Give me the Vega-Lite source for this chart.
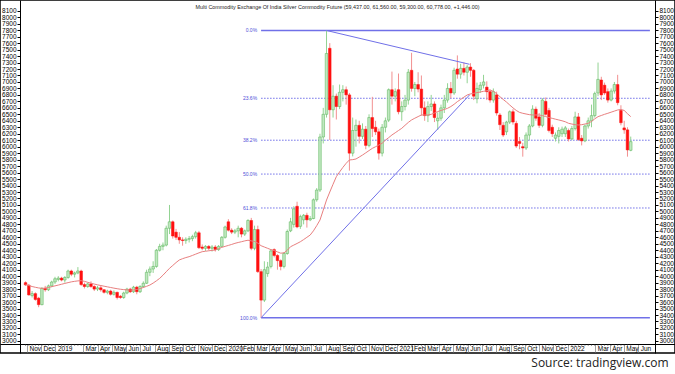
{
"$schema": "https://vega.github.io/schema/vega-lite/v6.json",
"width": 675, "height": 353,
"autosize": {"type": "none"},
"padding": {"left": 0, "top": 0, "right": 0, "bottom": 21},
"background": "white",
"config": {"view": {"stroke": "#000", "strokeWidth": 1.5}, "axis": {"grid": false}},
"title": {"text": "Multi Commodity Exchange Of India Silver Commodity Future (59,437.00, 61,560.00, 59,300.00, 60,778.00, +1,446.00)", "orient": "top", "anchor": "middle", "offset": -10, "font": "Liberation Sans", "fontSize": 5.4, "fontWeight": "normal", "color": "#222"},
"datasets": {
"k": [
{"d":"2018-10-29","o":3900,"h":3920,"l":3850,"c":3865,"ma":3870},
{"d":"2018-11-05","o":3860,"h":3880,"l":3700,"c":3710,"ma":3855},
{"d":"2018-11-12","o":3700,"h":3770,"l":3670,"c":3730,"ma":3840},
{"d":"2018-11-19","o":3730,"h":3750,"l":3620,"c":3640,"ma":3828},
{"d":"2018-11-26","o":3660,"h":3680,"l":3520,"c":3560,"ma":3818},
{"d":"2018-12-03","o":3560,"h":3830,"l":3550,"c":3810,"ma":3812},
{"d":"2018-12-10","o":3810,"h":3850,"l":3760,"c":3790,"ma":3815},
{"d":"2018-12-17","o":3790,"h":3870,"l":3770,"c":3850,"ma":3825},
{"d":"2018-12-24","o":3850,"h":3930,"l":3830,"c":3910,"ma":3838},
{"d":"2018-12-31","o":3910,"h":3990,"l":3880,"c":3960,"ma":3850},
{"d":"2019-01-07","o":3950,"h":4000,"l":3920,"c":3970,"ma":3862},
{"d":"2019-01-14","o":3970,"h":3990,"l":3920,"c":3940,"ma":3875},
{"d":"2019-01-21","o":3940,"h":4000,"l":3900,"c":3980,"ma":3888},
{"d":"2019-01-28","o":3980,"h":4100,"l":3960,"c":4080,"ma":3900},
{"d":"2019-02-04","o":4080,"h":4100,"l":4000,"c":4030,"ma":3912},
{"d":"2019-02-11","o":4030,"h":4070,"l":3980,"c":4050,"ma":3920},
{"d":"2019-02-18","o":4050,"h":4140,"l":4030,"c":4080,"ma":3927},
{"d":"2019-02-25","o":4080,"h":4100,"l":3850,"c":3870,"ma":3930},
{"d":"2019-03-04","o":3870,"h":3900,"l":3810,"c":3840,"ma":3920},
{"d":"2019-03-11","o":3840,"h":3900,"l":3820,"c":3880,"ma":3905},
{"d":"2019-03-18","o":3880,"h":3920,"l":3820,"c":3840,"ma":3890},
{"d":"2019-03-25","o":3840,"h":3860,"l":3770,"c":3800,"ma":3878},
{"d":"2019-04-01","o":3800,"h":3850,"l":3770,"c":3820,"ma":3866},
{"d":"2019-04-08","o":3820,"h":3860,"l":3760,"c":3790,"ma":3855},
{"d":"2019-04-15","o":3790,"h":3800,"l":3730,"c":3750,"ma":3845},
{"d":"2019-04-22","o":3750,"h":3790,"l":3720,"c":3770,"ma":3835},
{"d":"2019-04-29","o":3770,"h":3790,"l":3700,"c":3720,"ma":3825},
{"d":"2019-05-06","o":3720,"h":3780,"l":3700,"c":3750,"ma":3815},
{"d":"2019-05-13","o":3750,"h":3760,"l":3640,"c":3670,"ma":3806},
{"d":"2019-05-20","o":3690,"h":3710,"l":3650,"c":3670,"ma":3798},
{"d":"2019-05-27","o":3670,"h":3760,"l":3650,"c":3740,"ma":3792},
{"d":"2019-06-03","o":3740,"h":3820,"l":3720,"c":3800,"ma":3788},
{"d":"2019-06-10","o":3800,"h":3820,"l":3740,"c":3760,"ma":3786},
{"d":"2019-06-17","o":3760,"h":3850,"l":3740,"c":3830,"ma":3786},
{"d":"2019-06-24","o":3830,"h":3850,"l":3720,"c":3760,"ma":3795},
{"d":"2019-07-01","o":3760,"h":3860,"l":3740,"c":3840,"ma":3808},
{"d":"2019-07-08","o":3840,"h":3920,"l":3820,"c":3890,"ma":3825},
{"d":"2019-07-15","o":3890,"h":4100,"l":3880,"c":4060,"ma":3843},
{"d":"2019-07-22","o":4060,"h":4150,"l":4000,"c":4110,"ma":3863},
{"d":"2019-07-29","o":4110,"h":4230,"l":4050,"c":4150,"ma":3893},
{"d":"2019-08-05","o":4150,"h":4420,"l":4130,"c":4400,"ma":3928},
{"d":"2019-08-12","o":4400,"h":4500,"l":4380,"c":4460,"ma":3966},
{"d":"2019-08-19","o":4460,"h":4520,"l":4400,"c":4480,"ma":4015},
{"d":"2019-08-26","o":4480,"h":4780,"l":4460,"c":4740,"ma":4068},
{"d":"2019-09-02","o":4740,"h":5100,"l":4650,"c":4840,"ma":4121},
{"d":"2019-09-09","o":4840,"h":4860,"l":4580,"c":4620,"ma":4165},
{"d":"2019-09-16","o":4680,"h":4730,"l":4560,"c":4600,"ma":4210},
{"d":"2019-09-23","o":4600,"h":4680,"l":4500,"c":4560,"ma":4250},
{"d":"2019-09-30","o":4560,"h":4600,"l":4470,"c":4550,"ma":4270},
{"d":"2019-10-07","o":4550,"h":4600,"l":4500,"c":4570,"ma":4287},
{"d":"2019-10-14","o":4570,"h":4620,"l":4520,"c":4580,"ma":4301},
{"d":"2019-10-21","o":4580,"h":4640,"l":4540,"c":4610,"ma":4320},
{"d":"2019-10-28","o":4610,"h":4700,"l":4580,"c":4670,"ma":4340},
{"d":"2019-11-04","o":4670,"h":4700,"l":4420,"c":4440,"ma":4360},
{"d":"2019-11-11","o":4450,"h":4490,"l":4400,"c":4430,"ma":4378},
{"d":"2019-11-18","o":4430,"h":4480,"l":4390,"c":4460,"ma":4385},
{"d":"2019-11-25","o":4460,"h":4480,"l":4400,"c":4430,"ma":4392},
{"d":"2019-12-02","o":4430,"h":4480,"l":4380,"c":4450,"ma":4398},
{"d":"2019-12-09","o":4450,"h":4480,"l":4380,"c":4410,"ma":4404},
{"d":"2019-12-16","o":4410,"h":4480,"l":4390,"c":4460,"ma":4425},
{"d":"2019-12-23","o":4460,"h":4620,"l":4450,"c":4600,"ma":4445},
{"d":"2019-12-30","o":4600,"h":4780,"l":4580,"c":4760,"ma":4460},
{"d":"2020-01-06","o":4840,"h":4880,"l":4690,"c":4710,"ma":4475},
{"d":"2020-01-13","o":4710,"h":4740,"l":4650,"c":4680,"ma":4490},
{"d":"2020-01-20","o":4680,"h":4730,"l":4650,"c":4700,"ma":4507},
{"d":"2020-01-27","o":4700,"h":4780,"l":4600,"c":4740,"ma":4520},
{"d":"2020-02-03","o":4740,"h":4760,"l":4600,"c":4650,"ma":4532},
{"d":"2020-02-10","o":4650,"h":4720,"l":4620,"c":4700,"ma":4545},
{"d":"2020-02-17","o":4700,"h":4880,"l":4680,"c":4860,"ma":4555},
{"d":"2020-02-24","o":4860,"h":4900,"l":4400,"c":4430,"ma":4545},
{"d":"2020-03-02","o":4430,"h":4780,"l":4400,"c":4720,"ma":4535},
{"d":"2020-03-09","o":4720,"h":4780,"l":4050,"c":4070,"ma":4510},
{"d":"2020-03-16","o":4070,"h":4110,"l":3358,"c":3630,"ma":4470},
{"d":"2020-03-23","o":3630,"h":4230,"l":3600,"c":4100,"ma":4450},
{"d":"2020-03-30","o":4040,"h":4220,"l":3990,"c":4140,"ma":4430},
{"d":"2020-04-06","o":4150,"h":4420,"l":4120,"c":4390,"ma":4410},
{"d":"2020-04-13","o":4410,"h":4430,"l":4290,"c":4320,"ma":4395},
{"d":"2020-04-20","o":4320,"h":4340,"l":4100,"c":4240,"ma":4375},
{"d":"2020-04-27","o":4240,"h":4260,"l":4090,"c":4150,"ma":4355},
{"d":"2020-05-04","o":4150,"h":4370,"l":4120,"c":4350,"ma":4360},
{"d":"2020-05-11","o":4350,"h":4720,"l":4330,"c":4690,"ma":4400},
{"d":"2020-05-18","o":4700,"h":4900,"l":4680,"c":4840,"ma":4455},
{"d":"2020-05-25","o":4800,"h":5080,"l":4750,"c":5040,"ma":4480},
{"d":"2020-06-01","o":5080,"h":5150,"l":4740,"c":4760,"ma":4505},
{"d":"2020-06-08","o":4770,"h":4950,"l":4730,"c":4920,"ma":4532},
{"d":"2020-06-15","o":4870,"h":4960,"l":4800,"c":4940,"ma":4565},
{"d":"2020-06-22","o":4940,"h":4980,"l":4750,"c":4870,"ma":4600},
{"d":"2020-06-29","o":4870,"h":4930,"l":4850,"c":4890,"ma":4635},
{"d":"2020-07-06","o":4890,"h":5200,"l":4880,"c":5180,"ma":4700},
{"d":"2020-07-13","o":5180,"h":5360,"l":5150,"c":5330,"ma":4780},
{"d":"2020-07-20","o":5330,"h":6200,"l":5300,"c":6150,"ma":4867},
{"d":"2020-07-27","o":6150,"h":6600,"l":6050,"c":6500,"ma":5020},
{"d":"2020-08-03","o":6500,"h":7795,"l":6450,"c":7440,"ma":5176},
{"d":"2020-08-10","o":7520,"h":7600,"l":6104,"c":6570,"ma":5300},
{"d":"2020-08-17","o":6570,"h":6950,"l":6450,"c":6780,"ma":5420},
{"d":"2020-08-24","o":6780,"h":6820,"l":6420,"c":6620,"ma":5537},
{"d":"2020-08-31","o":6620,"h":6960,"l":6580,"c":6840,"ma":5610},
{"d":"2020-09-07","o":6840,"h":6950,"l":6700,"c":6880,"ma":5680},
{"d":"2020-09-14","o":6880,"h":6930,"l":6650,"c":6800,"ma":5743},
{"d":"2020-09-21","o":6800,"h":6830,"l":5630,"c":5900,"ma":5795},
{"d":"2020-09-28","o":5900,"h":6450,"l":5850,"c":6250,"ma":5800},
{"d":"2020-10-05","o":6250,"h":6420,"l":6000,"c":6330,"ma":5810},
{"d":"2020-10-12","o":6330,"h":6400,"l":6050,"c":6160,"ma":5840},
{"d":"2020-10-19","o":6160,"h":6360,"l":6120,"c":6270,"ma":5871},
{"d":"2020-10-26","o":6270,"h":6320,"l":5960,"c":6020,"ma":5905},
{"d":"2020-11-02","o":6020,"h":6500,"l":5990,"c":6450,"ma":5940},
{"d":"2020-11-09","o":6450,"h":6770,"l":6150,"c":6280,"ma":5974},
{"d":"2020-11-16","o":6300,"h":6400,"l":6180,"c":6230,"ma":6000},
{"d":"2020-11-23","o":6230,"h":6280,"l":5800,"c":5900,"ma":6026},
{"d":"2020-11-30","o":5900,"h":6350,"l":5850,"c":6300,"ma":6053},
{"d":"2020-12-07","o":6300,"h":6450,"l":6220,"c":6400,"ma":6100},
{"d":"2020-12-14","o":6410,"h":6900,"l":6380,"c":6880,"ma":6140},
{"d":"2020-12-21","o":6880,"h":7160,"l":6650,"c":6780,"ma":6181},
{"d":"2020-12-28","o":6780,"h":6900,"l":6700,"c":6850,"ma":6215},
{"d":"2021-01-04","o":6880,"h":7130,"l":6500,"c":6540,"ma":6250},
{"d":"2021-01-11","o":6540,"h":6700,"l":6400,"c":6620,"ma":6284},
{"d":"2021-01-18","o":6620,"h":6800,"l":6560,"c":6720,"ma":6330},
{"d":"2021-01-25","o":6720,"h":7200,"l":6650,"c":7150,"ma":6375},
{"d":"2021-02-01","o":7180,"h":7450,"l":6850,"c":6900,"ma":6413},
{"d":"2021-02-08","o":6900,"h":7000,"l":6780,"c":6960,"ma":6440},
{"d":"2021-02-15","o":6960,"h":7150,"l":6840,"c":6890,"ma":6465},
{"d":"2021-02-22","o":6890,"h":7100,"l":6480,"c":6600,"ma":6490},
{"d":"2021-03-01","o":6600,"h":6700,"l":6400,"c":6480,"ma":6490},
{"d":"2021-03-08","o":6480,"h":6700,"l":6380,"c":6620,"ma":6490},
{"d":"2021-03-15","o":6620,"h":6800,"l":6550,"c":6660,"ma":6500},
{"d":"2021-03-22","o":6660,"h":6700,"l":6380,"c":6450,"ma":6520},
{"d":"2021-03-29","o":6400,"h":6530,"l":6258,"c":6440,"ma":6542},
{"d":"2021-04-05","o":6440,"h":6650,"l":6400,"c":6600,"ma":6560},
{"d":"2021-04-12","o":6600,"h":6800,"l":6520,"c":6720,"ma":6575},
{"d":"2021-04-19","o":6720,"h":6980,"l":6680,"c":6900,"ma":6593},
{"d":"2021-04-26","o":6900,"h":7000,"l":6750,"c":6830,"ma":6620},
{"d":"2021-05-03","o":6830,"h":7220,"l":6800,"c":7180,"ma":6655},
{"d":"2021-05-10","o":7200,"h":7410,"l":7050,"c":7120,"ma":6696},
{"d":"2021-05-17","o":7120,"h":7280,"l":7050,"c":7210,"ma":6730},
{"d":"2021-05-24","o":7210,"h":7300,"l":7100,"c":7150,"ma":6765},
{"d":"2021-05-31","o":7150,"h":7260,"l":6980,"c":7230,"ma":6799},
{"d":"2021-06-07","o":7230,"h":7290,"l":7080,"c":7180,"ma":6815},
{"d":"2021-06-14","o":7180,"h":7200,"l":6720,"c":6780,"ma":6825},
{"d":"2021-06-21","o":6740,"h":6990,"l":6670,"c":6900,"ma":6835},
{"d":"2021-06-28","o":6880,"h":7000,"l":6830,"c":6950,"ma":6845},
{"d":"2021-07-05","o":6950,"h":7110,"l":6900,"c":7000,"ma":6855},
{"d":"2021-07-12","o":6920,"h":7010,"l":6720,"c":6850,"ma":6866},
{"d":"2021-07-19","o":6850,"h":6880,"l":6680,"c":6720,"ma":6876},
{"d":"2021-07-26","o":6720,"h":6900,"l":6680,"c":6850,"ma":6855},
{"d":"2021-08-02","o":6800,"h":6850,"l":6480,"c":6520,"ma":6820},
{"d":"2021-08-09","o":6490,"h":6520,"l":6258,"c":6340,"ma":6773},
{"d":"2021-08-16","o":6330,"h":6380,"l":6150,"c":6180,"ma":6730},
{"d":"2021-08-23","o":6230,"h":6400,"l":6180,"c":6380,"ma":6690},
{"d":"2021-08-30","o":6380,"h":6560,"l":6350,"c":6540,"ma":6644},
{"d":"2021-09-06","o":6540,"h":6580,"l":6340,"c":6380,"ma":6600},
{"d":"2021-09-13","o":6360,"h":6400,"l":5980,"c":6010,"ma":6560},
{"d":"2021-09-20","o":6080,"h":6150,"l":5960,"c":6050,"ma":6530},
{"d":"2021-09-27","o":6000,"h":6060,"l":5846,"c":5980,"ma":6516},
{"d":"2021-10-04","o":5980,"h":6220,"l":5950,"c":6180,"ma":6505},
{"d":"2021-10-11","o":6180,"h":6350,"l":6100,"c":6320,"ma":6495},
{"d":"2021-10-18","o":6320,"h":6640,"l":6300,"c":6580,"ma":6490},
{"d":"2021-10-25","o":6580,"h":6620,"l":6400,"c":6440,"ma":6490},
{"d":"2021-11-01","o":6460,"h":6520,"l":6290,"c":6330,"ma":6490},
{"d":"2021-11-08","o":6330,"h":6750,"l":6300,"c":6720,"ma":6480},
{"d":"2021-11-15","o":6700,"h":6760,"l":6480,"c":6500,"ma":6465},
{"d":"2021-11-22","o":6560,"h":6600,"l":6220,"c":6250,"ma":6450},
{"d":"2021-11-29","o":6300,"h":6340,"l":6150,"c":6200,"ma":6438},
{"d":"2021-12-06","o":6130,"h":6220,"l":6080,"c":6180,"ma":6425},
{"d":"2021-12-13","o":6160,"h":6300,"l":6050,"c":6250,"ma":6413},
{"d":"2021-12-20","o":6200,"h":6310,"l":6150,"c":6270,"ma":6400},
{"d":"2021-12-27","o":6200,"h":6320,"l":6150,"c":6290,"ma":6385},
{"d":"2022-01-03","o":6250,"h":6280,"l":6080,"c":6120,"ma":6361},
{"d":"2022-01-10","o":6120,"h":6320,"l":6100,"c":6280,"ma":6350},
{"d":"2022-01-17","o":6280,"h":6540,"l":6250,"c":6460,"ma":6340},
{"d":"2022-01-24","o":6460,"h":6520,"l":6090,"c":6110,"ma":6335},
{"d":"2022-01-31","o":6130,"h":6180,"l":6020,"c":6090,"ma":6340},
{"d":"2022-02-07","o":6090,"h":6340,"l":6070,"c":6320,"ma":6350},
{"d":"2022-02-14","o":6320,"h":6450,"l":6280,"c":6400,"ma":6361},
{"d":"2022-02-21","o":6400,"h":6650,"l":6300,"c":6480,"ma":6390},
{"d":"2022-02-28","o":6480,"h":6850,"l":6450,"c":6820,"ma":6430},
{"d":"2022-03-07","o":6830,"h":7300,"l":6780,"c":7040,"ma":6464},
{"d":"2022-03-14","o":7030,"h":7080,"l":6720,"c":6800,"ma":6482},
{"d":"2022-03-21","o":6950,"h":6990,"l":6800,"c":6830,"ma":6500},
{"d":"2022-03-28","o":6850,"h":6900,"l":6680,"c":6720,"ma":6516},
{"d":"2022-04-04","o":6720,"h":6900,"l":6700,"c":6860,"ma":6533},
{"d":"2022-04-11","o":6860,"h":7000,"l":6820,"c":6960,"ma":6550},
{"d":"2022-04-18","o":6960,"h":7110,"l":6640,"c":6680,"ma":6567},
{"d":"2022-04-25","o":6560,"h":6640,"l":6330,"c":6370,"ma":6575},
{"d":"2022-05-02","o":6290,"h":6400,"l":6200,"c":6260,"ma":6560},
{"d":"2022-05-09","o":6260,"h":6300,"l":5846,"c":5950,"ma":6510},
{"d":"2022-05-16","o":5944,"h":6156,"l":5930,"c":6078,"ma":6464}
],
"fib": [
{"lab":"0.0%","v":7795,"d":"2020-03-16","e":"2022-06-26"},
{"lab":"23.6%","v":6748,"d":"2020-03-16","e":"2022-06-26"},
{"lab":"38.2%","v":6100,"d":"2020-03-16","e":"2022-06-26"},
{"lab":"50.0%","v":5577,"d":"2020-03-16","e":"2022-06-26"},
{"lab":"61.8%","v":5053,"d":"2020-03-16","e":"2022-06-26"},
{"lab":"100.0%","v":3358,"d":"2020-03-16","e":"2022-06-26"}
],
"tr": [
{"t":"up","d":"2020-03-16","v":3358},
{"t":"up","d":"2021-06-05","v":6799},
{"t":"dn","d":"2020-08-03","v":7795},
{"t":"dn","d":"2021-06-05","v":7273}
]
},
"encoding": {
"x": {"field": "d", "type": "temporal",
 "scale": {"type": "utc", "domain": [{"year":2018,"month":9,"date":15,"utc":true},{"year":2022,"month":8,"date":8,"utc":true}]},
 "axis": {"orient": "bottom", "offset": -9,
  "values": [
   {"year":2018,"month":11,"date":1,"utc":true},{"year":2018,"month":12,"date":1,"utc":true},
   {"year":2019,"month":1,"date":1,"utc":true},{"year":2019,"month":3,"date":1,"utc":true},{"year":2019,"month":4,"date":1,"utc":true},{"year":2019,"month":5,"date":1,"utc":true},{"year":2019,"month":6,"date":1,"utc":true},{"year":2019,"month":7,"date":1,"utc":true},{"year":2019,"month":8,"date":1,"utc":true},{"year":2019,"month":9,"date":1,"utc":true},{"year":2019,"month":10,"date":1,"utc":true},{"year":2019,"month":11,"date":1,"utc":true},{"year":2019,"month":12,"date":1,"utc":true},
   {"year":2020,"month":1,"date":1,"utc":true},{"year":2020,"month":2,"date":1,"utc":true},{"year":2020,"month":3,"date":1,"utc":true},{"year":2020,"month":4,"date":1,"utc":true},{"year":2020,"month":5,"date":1,"utc":true},{"year":2020,"month":6,"date":1,"utc":true},{"year":2020,"month":7,"date":1,"utc":true},{"year":2020,"month":8,"date":1,"utc":true},{"year":2020,"month":9,"date":1,"utc":true},{"year":2020,"month":10,"date":1,"utc":true},{"year":2020,"month":11,"date":1,"utc":true},{"year":2020,"month":12,"date":1,"utc":true},
   {"year":2021,"month":1,"date":1,"utc":true},{"year":2021,"month":2,"date":1,"utc":true},{"year":2021,"month":3,"date":1,"utc":true},{"year":2021,"month":4,"date":1,"utc":true},{"year":2021,"month":5,"date":1,"utc":true},{"year":2021,"month":6,"date":1,"utc":true},{"year":2021,"month":7,"date":1,"utc":true},{"year":2021,"month":8,"date":1,"utc":true},{"year":2021,"month":9,"date":1,"utc":true},{"year":2021,"month":10,"date":1,"utc":true},{"year":2021,"month":11,"date":1,"utc":true},{"year":2021,"month":12,"date":1,"utc":true},
   {"year":2022,"month":1,"date":1,"utc":true},{"year":2022,"month":3,"date":1,"utc":true},{"year":2022,"month":4,"date":1,"utc":true},{"year":2022,"month":5,"date":1,"utc":true},{"year":2022,"month":6,"date":1,"utc":true}
  ],
  "labelExpr": "utcmonth(datum.value) == 0 ? utcFormat(datum.value, '%Y') : utcFormat(datum.value, '%b')",
  "labelAlign": "left", "labelBaseline": "top", "labelPadding": -7, "labelOffset": 2,
  "labelFont": "Liberation Sans", "labelFontSize": 6.5, "labelColor": "#000",
  "labelOverlap": false, "labelFlush": false, "labelBound": false,
  "tickSize": 8, "tickColor": "#8a8a8a", "tickWidth": 0.8, "domainColor": "#000", "grid": false,
  "title": "Source: tradingview.com", "titleFont": "Open Sans", "titleFontSize": 12, "titleFontWeight": "normal", "titleColor": "#222",
  "titleAnchor": "end", "titleAlign": "right", "titleBaseline": "top", "titleX": 668, "titleY": 13}
}
},
"layer": [
{"data": {"name": "fib"},
 "transform": [{"filter": "datum.lab != '0.0%' && datum.lab != '100.0%'"}],
 "mark": {"type": "rule", "color": "#7070e8", "strokeWidth": 1, "strokeDash": [1.5, 1.5]},
 "encoding": {"x2": {"field": "e"}, "y": {"field": "v", "type": "quantitative", "scale": {"domain": [2813, 8266], "nice": false, "zero": false}, "axis": null}}},
{"data": {"name": "fib"},
 "transform": [{"filter": "datum.lab == '0.0%' || datum.lab == '100.0%'"}],
 "mark": {"type": "rule", "color": "#7070e8", "strokeWidth": 1.5},
 "encoding": {"x2": {"field": "e"}, "y": {"field": "v", "type": "quantitative", "scale": {"domain": [2813, 8266], "nice": false, "zero": false}, "axis": null}}},
{"data": {"name": "fib"},
 "mark": {"type": "text", "color": "#5050d8", "font": "Liberation Sans", "fontSize": 5, "align": "right", "baseline": "middle", "dx": -4},
 "encoding": {"text": {"field": "lab"}, "y": {"field": "v", "type": "quantitative", "scale": {"domain": [2813, 8266], "nice": false, "zero": false}, "axis": null}}},
{"data": {"name": "k"},
 "mark": {"type": "rule", "strokeWidth": 0.8, "color": "#777"},
 "encoding": {"y": {"datum": 2940, "type": "quantitative", "scale": {"domain": [2813, 8266], "nice": false, "zero": false}, "axis": null}, "y2": {"datum": 2922}}},
{"data": {"name": "k"},
 "mark": {"type": "rule", "strokeWidth": 1},
 "encoding": {
  "y": {"field": "l", "type": "quantitative", "scale": {"domain": [2813, 8266], "nice": false, "zero": false},
   "axis": {"orient": "right", "offset": -20, "values": [3000,3100,3200,3300,3400,3500,3600,3700,3800,3900,4000,4100,4200,4300,4400,4500,4600,4700,4800,4900,5000,5100,5200,5300,5400,5500,5600,5700,5800,5900,6000,6100,6200,6300,6400,6500,6600,6700,6800,6900,7000,7100,7200,7300,7400,7500,7600,7700,7800,7900,8000,8100],
    "format": "d", "labelFont": "Liberation Sans", "labelFontSize": 6.5, "labelColor": "#000", "labelPadding": 1,
    "labelOverlap": false, "labelFlush": false, "labelBound": false, "tickSize": 3, "tickColor": "#000", "domainColor": "#000", "title": null, "grid": false}},
  "y2": {"field": "h"},
  "color": {"condition": {"test": "datum.c >= datum.o", "value": "#92d392"}, "value": "#f29090"}}},
{"data": {"name": "k"},
 "mark": {"type": "bar", "width": 2.6, "strokeWidth": 0.5},
 "encoding": {
  "y": {"field": "o", "type": "quantitative", "scale": {"domain": [2813, 8266], "nice": false, "zero": false},
   "axis": {"orient": "left", "offset": -20, "values": [3000,3100,3200,3300,3400,3500,3600,3700,3800,3900,4000,4100,4200,4300,4400,4500,4600,4700,4800,4900,5000,5100,5200,5300,5400,5500,5600,5700,5800,5900,6000,6100,6200,6300,6400,6500,6600,6700,6800,6900,7000,7100,7200,7300,7400,7500,7600,7700,7800,7900,8000,8100],
    "format": "d", "labelFont": "Liberation Sans", "labelFontSize": 6.5, "labelColor": "#000", "labelPadding": 1,
    "labelOverlap": false, "labelFlush": false, "labelBound": false, "tickSize": 3, "tickColor": "#000", "domainColor": "#000", "title": null, "grid": false}},
  "y2": {"field": "c"},
  "fill": {"condition": {"test": "datum.c >= datum.o", "value": "#bfe8bf"}, "value": "#ff1010"},
  "stroke": {"condition": {"test": "datum.c >= datum.o", "value": "#52b052"}, "value": "#ff1010"}}},
{"data": {"name": "k"},
 "mark": {"type": "line", "color": "#e87f7f", "strokeWidth": 1},
 "encoding": {"y": {"field": "ma", "type": "quantitative", "scale": {"domain": [2813, 8266], "nice": false, "zero": false}, "axis": null}}},
{"data": {"name": "tr"},
 "mark": {"type": "line", "color": "#7070e8", "strokeWidth": 1},
 "encoding": {"detail": {"field": "t"}, "y": {"field": "v", "type": "quantitative", "scale": {"domain": [2813, 8266], "nice": false, "zero": false}, "axis": null}}}
],
"resolve": {"axis": {"y": "independent"}}
}
